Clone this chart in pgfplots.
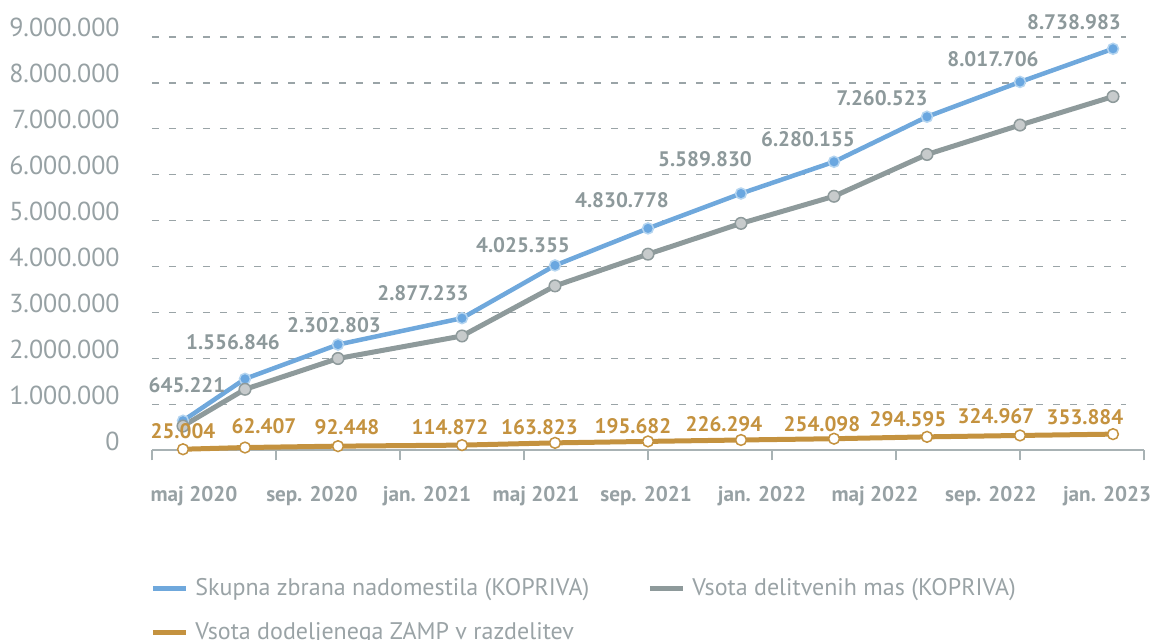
\documentclass[border=0pt]{standalone}
\usepackage{fontspec}
\setmainfont{PT Sans}
\usepackage{pgfplots}
\pgfplotsset{compat=1.18}
\usepackage{pgfplotstable}

\definecolor{blueline}{HTML}{6FA8DC}
\definecolor{bluemark}{HTML}{6AA7E0}
\definecolor{bluering}{HTML}{B5D5F0}
\definecolor{grayline}{HTML}{8E9A9B}
\definecolor{graymark}{HTML}{C7CBCC}
\definecolor{orangeline}{HTML}{C4923F}
\definecolor{labelgray}{HTML}{8D999B}
\definecolor{ticklabel}{HTML}{97A1A4}
\definecolor{axisgray}{HTML}{A8B2B4}
\definecolor{gridgray}{HTML}{9AA4A7}
\definecolor{legendgray}{HTML}{9AA3A6}

% x = months after May 2020
\pgfplotstableread{
x y lab dx dy
1 645221 645.221 2 18
3 1556846 1.556.846 -6 18.5
6 2302803 2.302.803 -2 9.5
10 2877233 2.877.233 -19.5 12.5
13 4025355 4.025.355 -16 10
16 4830778 4.830.778 -13 14
19 5589830 5.589.830 -18 17
22 6280155 6.280.155 -13 11.5
25 7260523 7.260.523 -22.5 9.5
28 8017706 8.017.706 -13.5 11.5
31 8738983 8.738.983 -19.5 13.5
}\bluedata

\pgfplotstableread{
x y
1 530000
3 1330000
6 2000000
10 2490000
13 3580000
16 4270000
19 4940000
22 5530000
25 6440000
28 7080000
31 7700000
}\graydata

\pgfplotstableread{
x y lab dx dy
1 25004 25.004 0 9
3 62407 62.407 9.5 10.5
6 92448 92.448 4.5 9.5
10 114872 114.872 -6 9
13 163823 163.823 -7.75 8
16 195682 195.682 -7.5 7.5
19 226294 226.294 -8.5 8
22 254098 254.098 -6 7.5
25 294595 294.595 -9.5 8.75
28 324967 324.967 -12 9.5
31 353884 353.884 -14 8.5
}\orangedata

\begin{document}
\begin{tikzpicture}
\path[use as bounding box] (-76pt,-94.8pt) rectangle (501.5pt,225.2pt);
\begin{axis}[
  scale only axis, width=496pt, height=206.8pt,
  xmin=0, xmax=32, ymin=0, ymax=9000000,
  clip=false,
  axis x line*=bottom, axis y line*=left,
  y axis line style={draw=none},
  x axis line style={draw=axisgray, line width=1pt},
  xtick={0,4,...,32}, xticklabels={},
  major tick length=5pt, tick align=outside,
  xtick style={draw=axisgray, line width=1pt},
  ytick={0,1000000,...,9000000},
  ytick style={draw=none},
  scaled y ticks=false,
  /pgf/number format/.cd, fixed, precision=0, 1000 sep={.}, assume math mode=true, /pgfplots/.cd,
  yticklabel style={font=\fontsize{13}{15}\selectfont, text=ticklabel, anchor=east, inner sep=0pt, xshift=-11pt, yshift=4.5pt},
  extra x ticks={1.355,5.16,8.87,12.39,15.94,19.68,23.32,27.06,30.81},
  extra x tick labels={maj 2020,sep. 2020,jan. 2021,maj 2021,sep. 2021,jan. 2022,maj 2022,sep. 2022,jan. 2023},
  extra x tick style={major tick length=0pt, grid=none, xticklabel style={font=\bfseries\fontsize{10.6}{12}\selectfont, text=ticklabel, anchor=base, inner sep=0pt, yshift=-25.5pt}},
  legend style={draw=none, fill=none, at={(axis description cs:0,0)}, anchor=north west, xshift=-1pt, yshift=-62pt, legend columns=2, font=\fontsize{12}{14}\selectfont, text=legendgray, inner sep=0pt, row sep=8pt, /tikz/every even column/.append style={column sep=27pt}, /tikz/every odd column/.append style={column sep=1.5pt}},
  legend cell align=left,
  legend image code/.code={\draw[#1, mark=none, line width=2.5pt] (0pt,0pt) -- (16.5pt,0pt);},
]
% dashed horizontal grid lines (they stop short of the axis end, as in the reference)
\pgfplotsinvokeforeach{1,2,...,9}{
  \addplot[forget plot, draw=gridgray, line width=0.75pt, dash pattern=on 3.5pt off 5pt, mark=none]
    coordinates {(0,#1000000) (31.42,#1000000)};
}
\addplot[draw=blueline, line width=2.25pt, mark=*, mark size=2.75pt,
  mark options={fill=bluemark, draw=bluering, line width=0.75pt},
  point meta=explicit symbolic, nodes near coords={\pgfplotspointmeta}, nodes near coords align=center,
  visualization depends on={\thisrow{dx}\as\dx},
  visualization depends on={\thisrow{dy}\as\dy},
  every node near coord/.append style={font=\bfseries\fontsize{10.5}{12}\selectfont, text=labelgray, xshift=\dx*1pt, yshift=\dy*1pt, inner sep=0pt}]
  table[x=x, y=y, meta=lab]{\bluedata};
\addlegendentry{Skupna zbrana nadomestila (KOPRIVA)}
\addplot[draw=grayline, line width=2.5pt, mark=*, mark size=2.9pt,
  mark options={fill=graymark, draw=grayline, line width=0.75pt}]
  table[x=x, y=y]{\graydata};
\addlegendentry{Vsota delitvenih mas (KOPRIVA)}
\addplot[draw=orangeline, line width=2.5pt, mark=*, mark size=2.7pt,
  mark options={fill=white, draw=orangeline, line width=0.75pt},
  point meta=explicit symbolic, nodes near coords={\pgfplotspointmeta}, nodes near coords align=center,
  visualization depends on={\thisrow{dx}\as\dx},
  visualization depends on={\thisrow{dy}\as\dy},
  every node near coord/.append style={font=\bfseries\fontsize{10.5}{12}\selectfont, text=orangeline, xshift=\dx*1pt, yshift=\dy*1pt, inner sep=0pt}]
  table[x=x, y=y, meta=lab]{\orangedata};
\addlegendentry{Vsota dodeljenega ZAMP v razdelitev}
\end{axis}
\end{tikzpicture}
\end{document}
